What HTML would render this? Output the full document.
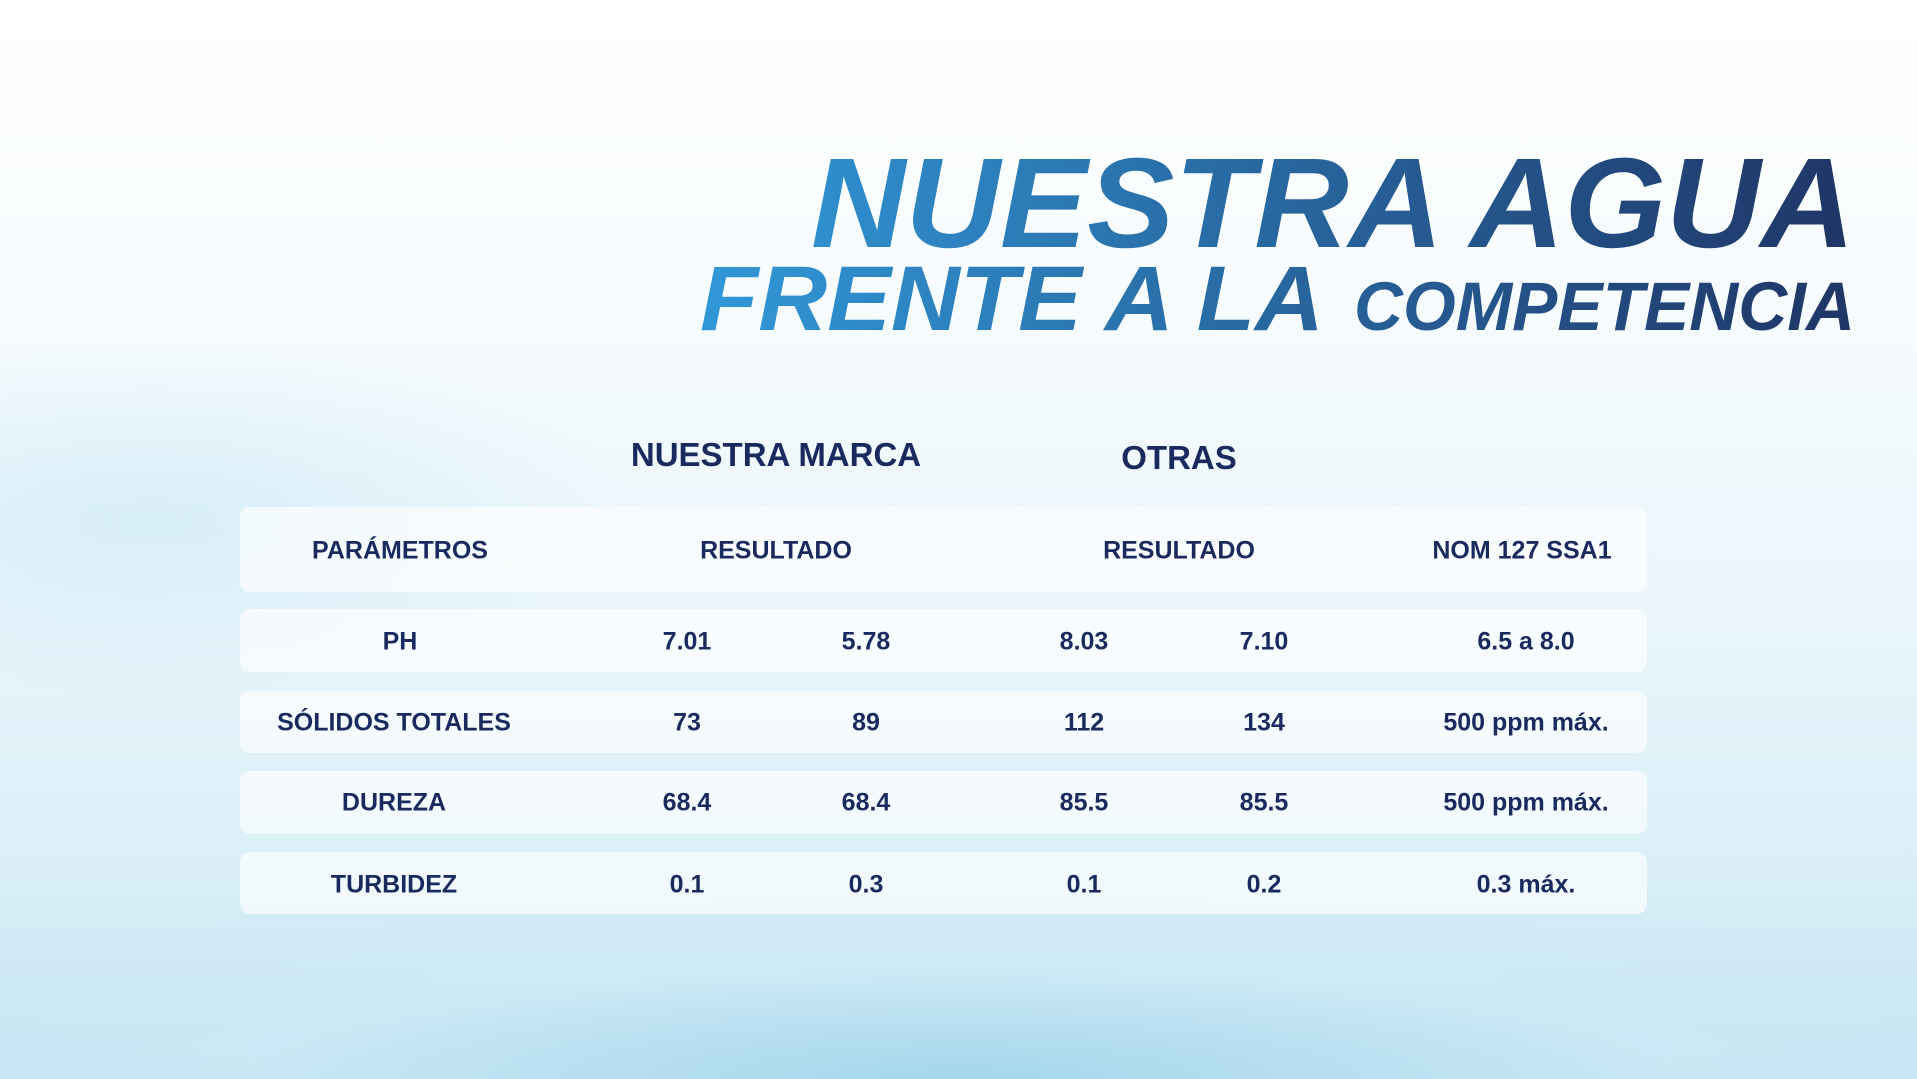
<!DOCTYPE html>
<html><head><meta charset="utf-8"><style>
html,body{margin:0;padding:0}
body{width:1917px;height:1079px;overflow:hidden;position:relative;font-family:"Liberation Sans",sans-serif;
background:
radial-gradient(ellipse 700px 260px at 150px 520px, rgba(200,232,246,0.6), rgba(255,255,255,0) 70%),
radial-gradient(ellipse 1300px 200px at 960px 1079px, rgba(165,214,236,1), rgba(205,234,246,0.6) 55%, rgba(255,255,255,0) 100%),
linear-gradient(180deg,#ffffff 0%,#f8fcfe 25%,#ebf6fb 55%,#daeff8 80%,#c2e3f2 100%);}
.t{position:absolute;color:#1b2a5e;font-weight:bold;transform:translate(-50%,-50%);white-space:nowrap;font-size:25px}
.h{font-size:33px}
.row{position:absolute;left:240px;width:1407px;background:rgba(255,255,255,0.65);border-radius:10px}
</style></head><body>
<svg width="1917" height="400" style="position:absolute;left:0;top:0">
<defs><linearGradient id="g" x1="700" y1="0" x2="1855" y2="0" gradientUnits="userSpaceOnUse">
<stop offset="0" stop-color="#3198d8"/><stop offset="1" stop-color="#1f3566"/></linearGradient></defs>
<g font-family="Liberation Sans" font-weight="bold" font-style="italic" fill="url(#g)">
<text x="811" y="247" font-size="128" textLength="1044" lengthAdjust="spacingAndGlyphs">NUESTRA AGUA</text>
<text x="700" y="330" font-size="92" textLength="624" lengthAdjust="spacingAndGlyphs">FRENTE A LA</text>
<text x="1354" y="330" font-size="69" textLength="501" lengthAdjust="spacingAndGlyphs">COMPETENCIA</text>
</g></svg>
<div class="row" style="top:507px;height:85px"></div>
<div class="row" style="top:609px;height:63px"></div>
<div class="row" style="top:691px;height:62px"></div>
<div class="row" style="top:771px;height:63px"></div>
<div class="row" style="top:852px;height:62px"></div>
<div class="t h" style="left:776px;top:455px">NUESTRA MARCA</div>
<div class="t h" style="left:1179px;top:458px">OTRAS</div>
<div class="t" style="left:400px;top:551px">PARÁMETROS</div>
<div class="t" style="left:776px;top:551px">RESULTADO</div>
<div class="t" style="left:1179px;top:551px">RESULTADO</div>
<div class="t" style="left:1522px;top:551px">NOM 127 SSA1</div>

<div class="t" style="left:400px;top:642px">PH</div>
<div class="t" style="left:687px;top:642px">7.01</div>
<div class="t" style="left:866px;top:642px">5.78</div>
<div class="t" style="left:1084px;top:642px">8.03</div>
<div class="t" style="left:1264px;top:642px">7.10</div>
<div class="t" style="left:1526px;top:642px">6.5 a 8.0</div>

<div class="t" style="left:394px;top:723px">SÓLIDOS TOTALES</div>
<div class="t" style="left:687px;top:723px">73</div>
<div class="t" style="left:866px;top:723px">89</div>
<div class="t" style="left:1084px;top:723px">112</div>
<div class="t" style="left:1264px;top:723px">134</div>
<div class="t" style="left:1526px;top:723px">500 ppm máx.</div>

<div class="t" style="left:394px;top:803px">DUREZA</div>
<div class="t" style="left:687px;top:803px">68.4</div>
<div class="t" style="left:866px;top:803px">68.4</div>
<div class="t" style="left:1084px;top:803px">85.5</div>
<div class="t" style="left:1264px;top:803px">85.5</div>
<div class="t" style="left:1526px;top:803px">500 ppm máx.</div>

<div class="t" style="left:394px;top:885px">TURBIDEZ</div>
<div class="t" style="left:687px;top:885px">0.1</div>
<div class="t" style="left:866px;top:885px">0.3</div>
<div class="t" style="left:1084px;top:885px">0.1</div>
<div class="t" style="left:1264px;top:885px">0.2</div>
<div class="t" style="left:1526px;top:885px">0.3 máx.</div>
</body></html>
